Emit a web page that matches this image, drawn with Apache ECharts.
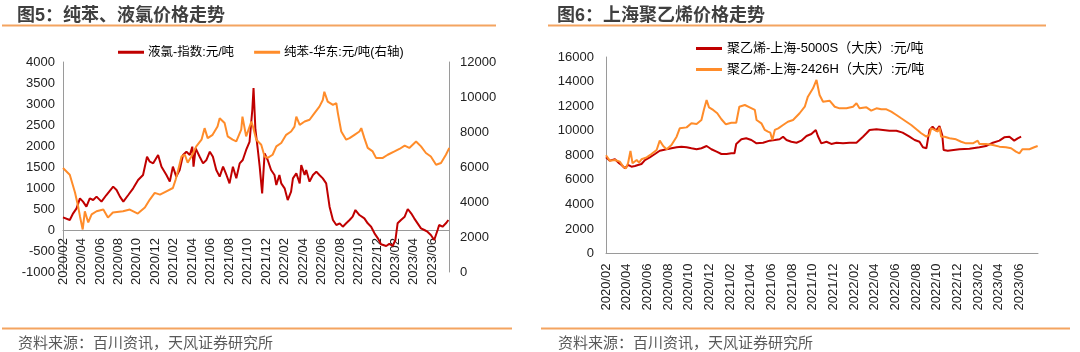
<!DOCTYPE html>
<html>
<head>
<meta charset="utf-8">
<script src="https://cdn.jsdelivr.net/npm/echarts@6/dist/echarts.min.js"></script>
<style>
  html, body { margin: 0; padding: 0; background: #fff; }
  #main { width: 1080px; height: 352px; }
</style>
</head>
<body>
<div id="main"></div>
<script>
// x轴刻度标签（每两个月一个）
var xTickLabels = ['2020/02','2020/04','2020/06','2020/08','2020/10','2020/12',
    '2021/02','2021/04','2021/06','2021/08','2021/10','2021/12',
    '2022/02','2022/04','2022/06','2022/08','2022/10','2022/12',
    '2023/02','2023/04','2023/06'];

// 图5 液氯-指数:元/吨（左轴）
var lyDates = ['2020-02-01','2020-02-23','2020-03-04','2020-03-15','2020-03-26','2020-04-06','2020-04-17','2020-04-28','2020-05-09','2020-05-20',
    '2020-06-06','2020-06-22','2020-07-14','2020-07-25','2020-08-06','2020-08-17','2020-09-03','2020-09-19','2020-10-05','2020-10-21',
    '2020-11-04','2020-11-13','2020-11-24','2020-12-10','2020-12-21','2021-01-07','2021-01-18','2021-01-28','2021-02-09','2021-02-20',
    '2021-03-01','2021-03-12','2021-03-23','2021-04-01','2021-04-05','2021-04-12','2021-04-25','2021-05-06','2021-05-17','2021-05-28',
    '2021-06-08','2021-06-19','2021-06-30','2021-07-11','2021-07-22','2021-08-02','2021-08-13','2021-08-24','2021-09-05','2021-09-15',
    '2021-09-26','2021-10-07','2021-10-16','2021-10-20','2021-10-26','2021-11-04','2021-11-10','2021-11-18','2021-11-26','2021-12-06',
    '2021-12-17','2021-12-28','2022-01-04','2022-01-14','2022-01-20','2022-02-01','2022-02-11','2022-02-22','2022-02-28','2022-03-09',
    '2022-03-20','2022-03-25','2022-04-06','2022-04-11','2022-04-22','2022-05-03','2022-05-14','2022-05-24','2022-06-05','2022-06-16',
    '2022-06-27','2022-07-08','2022-07-19','2022-07-30','2022-08-10','2022-08-21','2022-09-02','2022-09-12','2022-09-21','2022-10-04',
    '2022-10-20','2022-11-01','2022-11-12','2022-11-23','2022-12-04','2022-12-14','2022-12-31','2023-01-11','2023-01-22','2023-02-01',
    '2023-02-08','2023-02-19','2023-03-01','2023-03-11','2023-03-22','2023-04-02','2023-04-13','2023-04-24','2023-05-05','2023-05-15',
    '2023-05-26','2023-06-07','2023-06-18','2023-06-23','2023-07-04','2023-07-15','2023-07-23'];
var lyValues = [300,238,397,516,754,675,556,754,714,794,
    675,833,1032,952,794,675,833,992,1190,1310,
    1745,1627,1587,1786,1508,1310,1151,1508,1270,1429,
    1786,1865,1786,1984,1508,1944,1745,1587,1667,1865,
    1745,1429,1270,1508,1310,1111,1508,1230,1587,1667,
    1905,2100,2857,3380,2400,1905,1508,873,1825,1667,
    1429,1310,1071,1310,1111,992,714,913,1230,1349,
    1111,1548,1310,1429,1151,1310,1389,1310,1230,1111,
    556,238,119,159,79,159,238,317,476,357,
    278,159,79,-79,-198,-340,-380,-330,-380,-238,
    159,238,317,500,397,278,159,40,0,-40,
    -119,-238,0,119,79,159,238];

// 图5 纯苯-华东:元/吨（右轴）
var cbDates = ['2020-02-01','2020-02-23','2020-03-10','2020-03-20','2020-03-26','2020-04-05','2020-04-12','2020-04-23','2020-05-04','2020-05-20',
    '2020-06-12','2020-06-27','2020-07-13','2020-08-16','2020-09-08','2020-10-04','2020-10-27','2020-11-13','2020-11-29','2020-12-16',
    '2021-01-07','2021-01-28','2021-02-07','2021-02-14','2021-02-26','2021-03-07','2021-03-16','2021-03-28','2021-04-14','2021-05-01',
    '2021-05-11','2021-05-21','2021-06-07','2021-06-23','2021-06-30','2021-07-16','2021-07-26','2021-08-12','2021-08-24','2021-09-10',
    '2021-09-14','2021-09-26','2021-10-13','2021-10-18','2021-10-29','2021-11-15','2021-11-26','2021-12-06','2021-12-22','2022-01-04',
    '2022-01-20','2022-02-06','2022-02-22','2022-03-03','2022-03-09','2022-03-20','2022-04-06','2022-04-22','2022-05-08','2022-05-24',
    '2022-06-05','2022-06-10','2022-06-21','2022-07-08','2022-07-19','2022-07-24','2022-08-05','2022-08-21','2022-09-02','2022-09-18',
    '2022-10-04','2022-10-10','2022-10-20','2022-11-01','2022-11-17','2022-11-28','2022-12-20','2023-01-06','2023-01-28','2023-02-14',
    '2023-03-01','2023-03-16','2023-04-08','2023-04-24','2023-05-10','2023-05-26','2023-06-13','2023-06-29','2023-07-15','2023-07-26'];
var cbValues = [5945,5560,4540,3760,3190,2430,3470,2830,3290,3470,
    3570,3110,3400,3470,3570,3340,3680,4140,4520,4420,
    4610,4800,5280,5750,6600,6700,6250,6600,7180,7560,
    8220,7650,7840,8310,8790,8510,7750,7560,7460,8130,
    8880,7750,8600,8310,7560,7270,6600,6520,6700,7180,
    7370,7840,8030,8310,8880,8410,8600,8700,9080,9450,
    9830,10300,9740,9550,9650,9080,8030,7560,7650,7840,
    8030,8220,7650,7090,6890,6520,6520,6700,6890,7030,
    7220,7090,7460,7180,6800,6600,6130,6230,6700,7090];

// 图6 聚乙烯-上海-5000S（大庆）:元/吨
var pe5000Dates = ['2020-02-01','2020-02-12','2020-02-27','2020-03-07','2020-03-16','2020-03-26','2020-04-05','2020-04-15','2020-04-25','2020-05-04',
    '2020-05-14','2020-05-24','2020-06-08','2020-06-23','2020-07-07','2020-07-27','2020-08-11','2020-08-26','2020-09-10','2020-09-25',
    '2020-10-09','2020-10-24','2020-11-08','2020-11-23','2020-12-07','2020-12-22','2021-01-06','2021-01-21','2021-02-05','2021-02-14',
    '2021-02-19','2021-03-04','2021-03-18','2021-04-03','2021-04-18','2021-05-07','2021-05-26','2021-06-11','2021-06-25','2021-07-05',
    '2021-07-15','2021-07-29','2021-08-14','2021-08-28','2021-09-13','2021-09-27','2021-10-10','2021-10-16','2021-10-26','2021-11-11',
    '2021-11-25','2021-12-10','2021-12-29','2022-01-18','2022-02-08','2022-02-27','2022-03-07','2022-03-16','2022-04-06','2022-04-25',
    '2022-05-14','2022-06-04','2022-06-22','2022-07-12','2022-07-27','2022-08-11','2022-08-21','2022-08-31','2022-09-10','2022-09-19',
    '2022-09-29','2022-10-09','2022-10-17','2022-10-21','2022-11-03','2022-12-07','2023-01-06','2023-02-05','2023-02-24','2023-03-14',
    '2023-04-03','2023-04-17','2023-05-02','2023-05-16','2023-05-26','2023-06-06'];
var pe5000Values = [7830,7560,7670,7400,7210,6940,7210,7070,7130,7210,
    7290,7610,7830,8100,8370,8490,8570,8650,8700,8650,
    8570,8490,8570,8750,8490,8290,8100,8100,8160,8160,
    8920,9300,9380,9240,8970,9020,9190,9240,9300,9510,
    9240,9100,9020,9190,9570,9730,10060,9570,8970,9100,
    8920,9020,8970,9020,9020,9510,9790,10060,10110,10060,
    10000,10000,9840,9510,9240,9100,8650,8570,10060,10330,
    10000,10380,9650,8430,8370,8490,8530,8650,8750,9020,
    9190,9460,9510,9190,9380,9510];

// 图6 聚乙烯-上海-2426H（大庆）:元/吨
var pe2426Dates = ['2020-02-01','2020-02-12','2020-02-27','2020-03-11','2020-03-21','2020-03-29','2020-04-05','2020-04-12','2020-04-18','2020-04-30',
    '2020-05-07','2020-05-14','2020-05-29','2020-06-13','2020-06-28','2020-07-07','2020-07-17','2020-07-27','2020-08-11','2020-08-26',
    '2020-09-05','2020-09-25','2020-10-09','2020-10-24','2020-11-08','2020-11-15','2020-11-23','2020-11-30','2020-12-12','2020-12-24',
    '2021-01-06','2021-01-19','2021-02-05','2021-02-19','2021-02-28','2021-03-14','2021-03-28','2021-04-13','2021-04-18','2021-05-02',
    '2021-05-12','2021-05-21','2021-05-28','2021-06-04','2021-06-11','2021-06-21','2021-07-05','2021-07-19','2021-08-04','2021-08-23',
    '2021-09-08','2021-09-17','2021-10-02','2021-10-12','2021-10-21','2021-11-01','2021-11-20','2021-12-05','2021-12-19','2022-01-09',
    '2022-01-28','2022-02-08','2022-02-17','2022-03-07','2022-03-21','2022-04-06','2022-04-20','2022-05-05','2022-05-19','2022-06-04',
    '2022-06-18','2022-07-03','2022-07-17','2022-08-02','2022-08-16','2022-08-31','2022-09-10','2022-09-15','2022-09-25','2022-10-04',
    '2022-10-09','2022-10-14','2022-10-24','2022-11-08','2022-11-27','2022-12-12','2022-12-26','2023-01-16','2023-01-30','2023-02-05',
    '2023-02-24','2023-03-14','2023-04-03','2023-04-22','2023-05-07','2023-05-21','2023-06-01','2023-06-10','2023-06-30','2023-07-14',
    '2023-07-24'];
var pe2426Values = [8000,7560,7610,7480,7070,6940,7350,8350,7350,7610,
    7400,7670,7830,8100,8430,9190,8750,8490,8840,9510,
    10190,10270,10600,10550,10870,11690,12500,11900,11690,11420,
    10930,10520,10650,10650,11950,12090,11900,11690,10870,10600,
    10060,9920,9840,9240,10060,10190,10460,10730,10870,11420,
    11950,12770,13450,14130,12910,12360,12440,11950,11820,11820,
    11950,12230,11820,11900,11630,11820,11740,11740,11550,11280,
    11010,10730,10460,10110,9790,9510,9650,10190,10060,9920,
    10270,9510,9510,9380,9300,9100,8970,8970,9190,8920,
    8920,8840,8700,8650,8570,8290,8160,8490,8490,8650,
    8750];

// 日期 -> 以2020/02为0的月份序号
function toMonth(d){
    var p = d.split('-');
    return (parseInt(p[0]) - 2020) * 12 + (parseInt(p[1]) - 2) + (parseInt(p[2]) - 1) / 30;
}
function pairs(dates, values){
    var arr = [];
    for(var i=0;i<dates.length;i++){
        arr.push([toMonth(dates[i]), values[i]]);
    }
    return arr;
}

var FONT = '"Liberation Sans", "Noto Sans CJK SC", sans-serif';
var RED = '#C00000';
var ORANGE = '#FF8C2A';
var AXIS_GRAY = '#9a9a9a';
var SEP = '#F4A460';

// 左图x轴放在左轴0值处：网格高210对应5000，0值距底部1000 -> 42px
function xAxisOpt(gridIndex, margin, offset){
    return {
        type: 'value',
        gridIndex: gridIndex,
        position: 'bottom',
        offset: offset,
        min: 0,
        max: 41.8,
        interval: 2,
        axisLine: { show: true, onZero: false, lineStyle: { color: AXIS_GRAY, width: 1 } },
        axisTick: { show: false },
        splitLine: { show: false },
        axisLabel: {
            rotate: 90,
            margin: margin,
            showMaxLabel: false,
            fontFamily: FONT,
            fontSize: 13,
            color: '#222',
            formatter: function(v){ return xTickLabels[Math.round(v / 2)] || ''; }
        }
    };
}
function yAxisOpt(gridIndex, min, max, interval, position, margin){
    return {
        type: 'value',
        gridIndex: gridIndex,
        position: position,
        min: min,
        max: max,
        interval: interval,
        axisLine: { show: true, onZero: false, lineStyle: { color: AXIS_GRAY, width: 1 } },
        axisTick: { show: false },
        splitLine: { show: false },
        axisLabel: { margin: margin, fontFamily: FONT, fontSize: 13, color: '#222',
            formatter: function(v){ return String(v); } }
    };
}

var myChart = echarts.init(document.getElementById('main'));
var option = {
    animation: false,
    backgroundColor: '#fff',
    title: [
        { text: '图5：纯苯、液氯价格走势', left: 12, top: 2, textStyle: { fontFamily: FONT, fontSize: 18, fontWeight: 'bold', color: '#3f3f3f' } },
        { text: '图6：上海聚乙烯价格走势', left: 552, top: 2, textStyle: { fontFamily: FONT, fontSize: 18, fontWeight: 'bold', color: '#3f3f3f' } },
        { text: '资料来源：百川资讯，天风证券研究所', left: 13, top: 331, textStyle: { fontFamily: FONT, fontSize: 15, fontWeight: 'normal', color: '#595959' } },
        { text: '资料来源：百川资讯，天风证券研究所', left: 553, top: 331, textStyle: { fontFamily: FONT, fontSize: 15, fontWeight: 'normal', color: '#595959' } }
    ],
    graphic: [
        { type: 'line', shape: { x1: 2, y1: 25.5, x2: 496, y2: 25.5 }, style: { stroke: SEP, lineWidth: 2 } },
        { type: 'line', shape: { x1: 548, y1: 25.5, x2: 1046, y2: 25.5 }, style: { stroke: SEP, lineWidth: 2 } },
        { type: 'line', shape: { x1: 2, y1: 328.5, x2: 512, y2: 328.5 }, style: { stroke: SEP, lineWidth: 2 } },
        { type: 'line', shape: { x1: 541, y1: 328.5, x2: 1070, y2: 328.5 }, style: { stroke: SEP, lineWidth: 2 } }
    ],
    legend: [
        {
            data: ['液氯-指数:元/吨', '纯苯-华东:元/吨(右轴)'],
            left: 113, top: 41,
            itemGap: 20, itemWidth: 26, itemHeight: 3, icon: 'rect',
            textStyle: { fontFamily: FONT, fontSize: 12.5, color: '#000', padding: [0, 0, 0, -1] }
        },
        {
            data: ['聚乙烯-上海-5000S（大庆）:元/吨', '聚乙烯-上海-2426H（大庆）:元/吨'],
            orient: 'vertical',
            left: 691, top: 37,
            itemGap: 8, itemWidth: 26, itemHeight: 3, icon: 'rect',
            textStyle: { fontFamily: FONT, fontSize: 13, color: '#000' }
        }
    ],
    grid: [
        { left: 63, top: 62, width: 386, height: 210 },
        { left: 606, top: 57, width: 432, height: 196.5 }
    ],
    xAxis: [ xAxisOpt(0, 8, -42), xAxisOpt(1, 10, 0) ],
    yAxis: [
        yAxisOpt(0, -1000, 4000, 500, 'left', 8),
        yAxisOpt(0, 0, 12000, 2000, 'right', 11),
        yAxisOpt(1, 0, 16000, 2000, 'left', 12)
    ],
    series: [
        { name: '液氯-指数:元/吨', type: 'line', xAxisIndex: 0, yAxisIndex: 0, showSymbol: false,
          data: pairs(lyDates, lyValues), color: RED, lineStyle: { width: 2, color: RED } },
        { name: '纯苯-华东:元/吨(右轴)', type: 'line', xAxisIndex: 0, yAxisIndex: 1, showSymbol: false,
          data: pairs(cbDates, cbValues), color: ORANGE, lineStyle: { width: 2, color: ORANGE } },
        { name: '聚乙烯-上海-5000S（大庆）:元/吨', type: 'line', xAxisIndex: 1, yAxisIndex: 2, showSymbol: false,
          data: pairs(pe5000Dates, pe5000Values), color: RED, lineStyle: { width: 2, color: RED } },
        { name: '聚乙烯-上海-2426H（大庆）:元/吨', type: 'line', xAxisIndex: 1, yAxisIndex: 2, showSymbol: false,
          data: pairs(pe2426Dates, pe2426Values), color: ORANGE, lineStyle: { width: 2, color: ORANGE } }
    ]
};
myChart.setOption(option);
</script>
</body>
</html>
